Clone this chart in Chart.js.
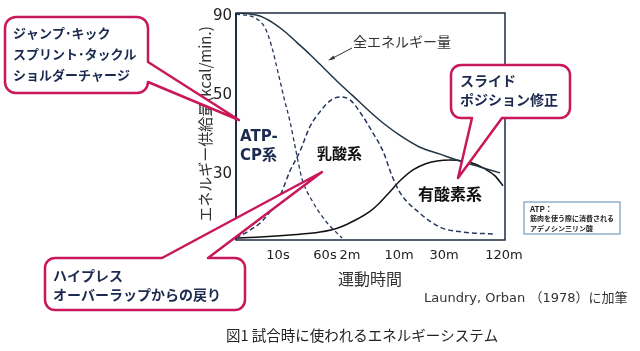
<!DOCTYPE html>
<html>
<head>
<meta charset="utf-8">
<script src="https://cdn.jsdelivr.net/npm/chart.js@4/dist/chart.umd.min.js"></script>
<style>
  body { margin: 0; background: #fff; }
  canvas { display: block; }
</style>
</head>
<body>
<canvas id="chart" width="640" height="351"></canvas>
<script>
// Schematic axes: positions are in plot units (x: 0-269, y: 0-115)
const xTickValues = [42, 89, 114, 163, 208, 268];
const xTickLabels = ['10s', '60s', '2m', '10m', '30m', '120m'];
const yTickValues = [33.5, 73.5, 113.5];
const yTickLabels = ['30', '50', '90'];

// Total energy (solid)
const totalX = [0, 14, 24, 37, 49, 61, 74, 84, 94, 104, 117, 134, 149, 164, 184, 204, 224, 244, 264];
const totalY = [115, 114.5, 113.5, 110, 105.5, 100, 94, 89, 84, 79, 73, 65, 58.5, 53, 47, 43.5, 40, 37, 34];

// ATP-CP system (dashed)
const atpX = [0, 19, 29, 36, 42, 48, 54, 60, 66, 76, 89, 106];
const atpY = [114.5, 112.5, 107.5, 97.5, 85, 72, 60, 45, 31, 20, 10, 1];

// Lactic acid system (dashed)
const lacticX = [0, 14, 27, 44, 54, 64, 74, 84, 94, 104, 114, 127, 136, 147, 156, 164, 184, 204, 227, 259];
const lacticY = [1, 5, 10, 22.5, 35, 45, 57.5, 65, 70.5, 72.5, 71, 62.5, 55, 45, 32.5, 24, 13.5, 6.5, 4, 3];

// Aerobic system (solid)
const aeroX = [0, 24, 54, 84, 104, 119, 134, 144, 154, 164, 177, 189, 201, 214, 227, 239, 249, 259, 267];
const aeroY = [1, 1.5, 2.5, 4, 6.5, 10, 14.5, 19, 24.5, 30, 35.5, 38.5, 40, 40.5, 40, 38.5, 36, 32.5, 27.5];

const toPoints = (xs, ys) => xs.map((x, i) => ({ x: x, y: ys[i] }));

const CRIMSON = '#c8185a';
const NAVY = '#1c2a4f';
const JP = '"Noto Sans CJK JP", sans-serif';

function roundedCallout(ctx, x, y, w, h, r, side, a, b, tip) {
  // side: 'right' | 'bottom' | 'top' ; a, b: base coordinates along that side
  ctx.beginPath();
  ctx.moveTo(x + r, y);
  if (side === 'top') {
    ctx.lineTo(a, y);
    ctx.lineTo(tip[0], tip[1]);
    ctx.lineTo(b, y);
  }
  ctx.lineTo(x + w - r, y);
  ctx.arcTo(x + w, y, x + w, y + r, r);
  if (side === 'right') {
    ctx.lineTo(x + w, a);
    ctx.lineTo(tip[0], tip[1]);
    ctx.lineTo(x + w, b);
  }
  ctx.lineTo(x + w, y + h - r);
  ctx.arcTo(x + w, y + h, x + w - r, y + h, r);
  if (side === 'bottom') {
    ctx.lineTo(b, y + h);
    ctx.lineTo(tip[0], tip[1]);
    ctx.lineTo(a, y + h);
  }
  ctx.lineTo(x + r, y + h);
  ctx.arcTo(x, y + h, x, y + h - r, r);
  ctx.lineTo(x, y + r);
  ctx.arcTo(x, y, x + r, y, r);
  ctx.closePath();
  ctx.fillStyle = '#fff';
  ctx.fill();
  ctx.lineWidth = 2.5;
  ctx.strokeStyle = CRIMSON;
  ctx.lineJoin = 'round';
  ctx.stroke();
}

function text(ctx, str, x, y, font, color, align) {
  ctx.font = font;
  ctx.fillStyle = color;
  ctx.textAlign = align || 'left';
  ctx.textBaseline = 'middle';
  ctx.fillText(str, x, y);
}

const decorations = {
  id: 'decorations',
  beforeDraw(chart) {
    const ctx = chart.ctx;
    ctx.save();
    ctx.fillStyle = '#fff';
    ctx.fillRect(0, 0, chart.width, chart.height);
    ctx.restore();
  },
  afterDraw(chart) {
    const ctx = chart.ctx;
    const a = chart.chartArea;
    ctx.save();

    // plot frame
    ctx.strokeStyle = '#1e2d40';
    ctx.lineWidth = 1.5;
    ctx.strokeRect(a.left, a.top, a.right - a.left, a.bottom - a.top);
    ctx.lineWidth = 2;
    ctx.beginPath();
    ctx.moveTo(a.left, a.top);
    ctx.lineTo(a.left, a.bottom);
    ctx.stroke();

    // y axis title (rotated)
    ctx.save();
    ctx.translate(205, 124);
    ctx.rotate(-Math.PI / 2);
    text(ctx, 'エネルギー供給量(kcal/min.)', 0, 0, '15px ' + JP, '#333', 'center');
    ctx.restore();

    // x axis title, source, caption
    text(ctx, '運動時間', 370, 279, '16px ' + JP, '#333', 'center');
    text(ctx, 'Laundry, Orban （1978）に加筆', 424, 299, '13px "DejaVu Sans", ' + JP, '#333');
    text(ctx, '図1 試合時に使われるエネルギーシステム', 226, 335, '14.5px ' + JP, '#222');

    // system labels
    text(ctx, 'ATP-', 240, 137, 'bold 15px "DejaVu Sans", ' + JP, NAVY);
    text(ctx, 'CP系', 240, 156, 'bold 15px "DejaVu Sans", ' + JP, NAVY);
    text(ctx, '乳酸系', 317, 153, 'bold 15px ' + JP, '#111');
    text(ctx, '有酸素系', 418, 194, 'bold 16px ' + JP, '#111');

    // total energy label with arrow
    text(ctx, '全エネルギー量', 353, 42, '14px ' + JP, '#333');
    ctx.strokeStyle = '#333';
    ctx.fillStyle = '#333';
    ctx.lineWidth = 1;
    ctx.beginPath();
    ctx.moveTo(352, 48);
    ctx.lineTo(331, 59);
    ctx.stroke();
    ctx.beginPath();
    ctx.moveTo(328, 60.5);
    ctx.lineTo(333.5, 55.5);
    ctx.lineTo(335, 59);
    ctx.closePath();
    ctx.fill();

    // callouts
    roundedCallout(ctx, 5, 17, 143, 76, 11, 'right', 62, 82, [239, 120]);
    text(ctx, 'ジャンプ･キック', 13, 33, 'bold 13px ' + JP, NAVY);
    text(ctx, 'スプリント･タックル', 13, 54, 'bold 13px ' + JP, NAVY);
    text(ctx, 'ショルダーチャージ', 13, 75, 'bold 13px ' + JP, NAVY);

    roundedCallout(ctx, 451, 65, 119, 53, 10, 'bottom', 472, 502, [458, 178]);
    text(ctx, 'スライド', 460, 81, 'bold 14px ' + JP, NAVY);
    text(ctx, 'ポジション修正', 460, 100, 'bold 14px ' + JP, NAVY);

    roundedCallout(ctx, 45, 258, 200, 52, 10, 'top', 162, 208, [322, 172]);
    text(ctx, 'ハイプレス', 53, 276, 'bold 14px ' + JP, NAVY);
    text(ctx, 'オーバーラップからの戻り', 53, 295, 'bold 14px ' + JP, NAVY);

    // ATP note box
    ctx.strokeStyle = '#8fb0cc';
    ctx.lineWidth = 1.5;
    ctx.strokeRect(524, 202, 96, 32);
    text(ctx, 'ATP：', 530, 209, 'bold 8px ' + JP, '#222');
    text(ctx, '筋肉を使う際に消費される', 530, 218.5, 'bold 7px ' + JP, '#222');
    text(ctx, 'アデノシン三リン酸', 530, 228, 'bold 7px ' + JP, '#222');

    ctx.restore();
  }
};

const lineStyle = { pointRadius: 0, borderWidth: 1.5, cubicInterpolationMode: 'monotone', fill: false };

new Chart(document.getElementById('chart'), {
  type: 'line',
  data: {
    datasets: [
      { label: '全エネルギー量', data: toPoints(totalX, totalY), borderColor: '#1f3447', ...lineStyle },
      { label: 'ATP-CP系', data: toPoints(atpX, atpY), borderColor: '#25375a', borderDash: [4, 3], ...lineStyle, borderWidth: 1.3 },
      { label: '乳酸系', data: toPoints(lacticX, lacticY), borderColor: '#25375a', borderDash: [5, 3], ...lineStyle, borderWidth: 1.5 },
      { label: '有酸素系', data: toPoints(aeroX, aeroY), borderColor: '#111', ...lineStyle }
    ]
  },
  options: {
    responsive: false,
    animation: false,
    layout: { padding: { top: 10, right: 135, bottom: 0, left: 0 } },
    plugins: { legend: { display: false }, tooltip: { enabled: false } },
    scales: {
      x: {
        type: 'linear',
        min: 0,
        max: 269,
        afterFit: (scale) => { scale.height = 111; },
        afterBuildTicks: (scale) => { scale.ticks = xTickValues.map(v => ({ value: v })); },
        grid: { display: false, drawTicks: false },
        border: { display: false },
        ticks: {
          autoSkip: false,
          maxRotation: 0,
          padding: 8,
          color: '#222',
          font: { family: 'DejaVu Sans', size: 13 },
          callback: (value, index) => xTickLabels[index]
        }
      },
      y: {
        type: 'linear',
        min: 0,
        max: 115,
        afterFit: (scale) => { scale.width = 236; },
        afterBuildTicks: (scale) => { scale.ticks = yTickValues.map(v => ({ value: v })); },
        grid: { display: false, drawTicks: false },
        border: { display: false },
        ticks: {
          padding: 4,
          color: '#222',
          font: { family: 'DejaVu Sans', size: 15 },
          callback: (value, index) => yTickLabels[index]
        }
      }
    }
  },
  plugins: [decorations]
});
</script>
</body>
</html>
